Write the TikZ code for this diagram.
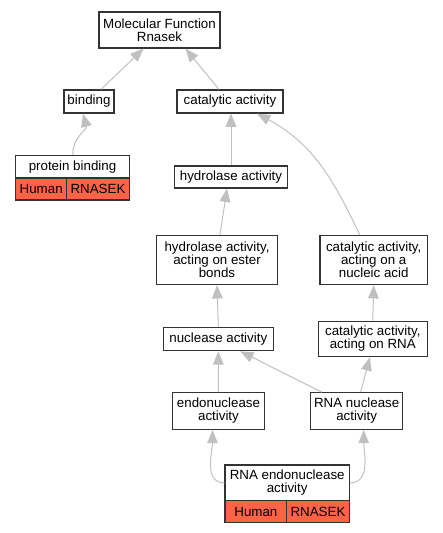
\documentclass[tikz,border=0pt]{standalone}
\usepackage{fontspec}
\setmainfont{Liberation Sans}
\usetikzlibrary{arrows.meta}

\definecolor{edgegray}{RGB}{192,192,192}
\definecolor{hit}{RGB}{255,99,71}

\begin{document}
\begin{tikzpicture}[x=0.75pt,y=-0.75pt,
    term/.style={draw=black!80,line width=0.9pt,fill=white,inner sep=0pt,align=center,
      font=\fontsize{10}{9.8}\selectfont},
    cell/.style={term,fill=hit},
    isa/.style={draw=edgegray,line width=0.75pt,-{Triangle[length=10pt,width=8pt,fill=edgegray]}}]
  \useasboundingbox (0,0) rectangle (443,533);

  \node[term,minimum width={121*0.75pt},minimum height={36*0.75pt}] (mf) at (159.5,30) {Molecular Function\\Rnasek};
  \node[term,minimum width={50*0.75pt},minimum height={23*0.75pt}] (binding) at (89,101.5) {binding};
  \node[term,minimum width={106*0.75pt},minimum height={23*0.75pt}] (catalytic) at (230,101.5) {catalytic activity};

  \node[term,minimum width={113.6*0.75pt},minimum height={23*0.75pt}] (protein) at (72.5,167) {protein binding};
  \node[cell,minimum width={51*0.75pt},minimum height={22*0.75pt}] (proteinhuman) at (41.2,189) {Human};
  \node[cell,minimum width={62.6*0.75pt},minimum height={22*0.75pt}] (proteingene) at (98,189) {RNASEK};

  \node[term,minimum width={113*0.75pt},minimum height={22*0.75pt}] (hydrolase) at (231,177) {hydrolase activity};
  \node[term,minimum width={120.6*0.75pt},minimum height={49*0.75pt}] (ester) at (217,260) {hydrolase activity,\\acting on ester\\bonds};
  \node[term,minimum width={107.3*0.75pt},minimum height={49*0.75pt}] (nucleic) at (373.7,260) {catalytic activity,\\acting on a\\nucleic acid};
  \node[term,minimum width={110*0.75pt},minimum height={23.4*0.75pt}] (nuclease) at (218.3,339) {nuclease activity};
  \node[term,minimum width={109*0.75pt},minimum height={35.4*0.75pt}] (catrna) at (372.8,339) {catalytic activity,\\acting on RNA};
  \node[term,minimum width={91.6*0.75pt},minimum height={36.6*0.75pt}] (endo) at (218.5,411) {endonuclease\\activity};
  \node[term,minimum width={92*0.75pt},minimum height={36.6*0.75pt}] (rnanuc) at (356.7,411) {RNA nuclease\\activity};

  \node[term,minimum width={124.3*0.75pt},minimum height={35.7*0.75pt}] (rnaendo) at (287.2,482.9) {RNA endonuclease\\activity};
  \node[cell,minimum width={61.7*0.75pt},minimum height={22*0.75pt}] (rnaendohuman) at (255.9,511.7) {Human};
  \node[cell,minimum width={62.6*0.75pt},minimum height={22*0.75pt}] (rnaendogene) at (318,511.7) {RNASEK};

  % is_a links, child to parent
  \draw[isa] ([xshift=12*0.75pt]binding.north) -- ([xshift=-16*0.75pt]mf.south);
  \draw[isa] ([xshift=-11*0.75pt]catalytic.north) -- ([xshift=26*0.75pt]mf.south);
  \draw[isa] ([xshift=0.5*0.75pt]protein.north) to[out=95,in=-75] ([xshift=-6*0.75pt]binding.south);
  \draw[isa] ([xshift=0*0.75pt]hydrolase.north) -- ([xshift=1*0.75pt]catalytic.south);
  \draw[isa] ([xshift=-14*0.75pt]nucleic.north) to[out=115,in=-28] ([xshift=27*0.75pt]catalytic.south);
  \draw[isa] ([xshift=3*0.75pt]ester.north) -- ([xshift=-4*0.75pt]hydrolase.south);
  \draw[isa] (nuclease.north) -- ([xshift=0*0.75pt]ester.south);
  \draw[isa] (catrna.north) -- (nucleic.south);
  \draw[isa] (endo.north) -- (nuclease.south);
  \draw[isa] ([xshift=-35*0.75pt]rnanuc.north) -- ([xshift=22*0.75pt]nuclease.south);
  \draw[isa] ([xshift=4*0.75pt]rnanuc.north) -- ([xshift=-3*0.75pt]catrna.south);
  \draw[isa] (rnaendo.west) to[out=180,in=-90] ([xshift=-6*0.75pt]endo.south);
  \draw[isa] (rnaendo.east) to[out=0,in=-90] ([xshift=7*0.75pt]rnanuc.south);
\end{tikzpicture}
\end{document}
